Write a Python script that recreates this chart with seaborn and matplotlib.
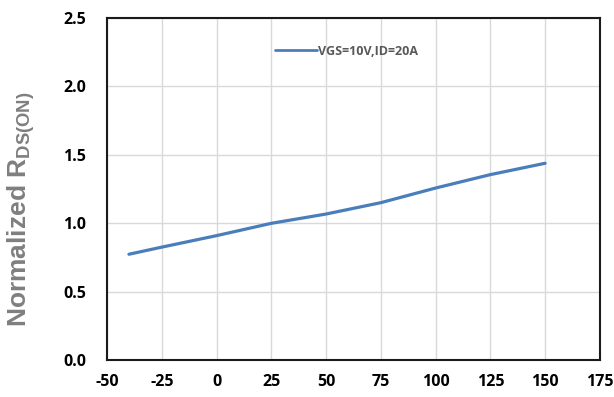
import matplotlib
matplotlib.use("Agg")
import matplotlib.pyplot as plt
import seaborn as sns
import pandas as pd

# Normalized on-resistance versus junction temperature
temperature_c = [-40, -25, 0, 25, 50, 75, 100, 125, 150]
rds_norm = [0.773, 0.825, 0.909, 0.999, 1.067, 1.15, 1.257, 1.355, 1.438]
series_label = "VGS=10V,ID=20A"
x_ticks = [-50, -25, 0, 25, 50, 75, 100, 125, 150, 175]
y_ticks = [0.0, 0.5, 1.0, 1.5, 2.0, 2.5]

sns.set_theme(style="white")
plt.rcParams["font.family"] = ["Open Sans", "DejaVu Sans"]
plt.rcParams["mathtext.default"] = "regular"

df = pd.DataFrame({"T": temperature_c, "R": rds_norm, "series": series_label})

fig = plt.figure(figsize=(6.14, 3.97), dpi=100)
ax = fig.add_axes([0.1743, 0.0932, 0.8027, 0.8615])

sns.lineplot(data=df, x="T", y="R", hue="series", palette=["#4a7ebb"],
             linewidth=2.3, ax=ax, legend=True)

ax.set_xlim(-50, 175)
ax.set_ylim(0, 2.5)
ax.set_xticks(x_ticks)
ax.set_yticks(y_ticks)
ax.set_xticklabels([str(v) for v in x_ticks])
ax.set_yticklabels([f"{v:.1f}" for v in y_ticks])
ax.grid(True, color="#d9d9d9", linewidth=1.0)
ax.set_axisbelow(True)
for s in ax.spines.values():
    s.set_color("#1a1a1a")
    s.set_linewidth(1.5)
ax.tick_params(axis="x", length=0, labelsize=11.5, pad=10)
ax.tick_params(axis="y", length=0, labelsize=11.5, pad=15)
for lbl in ax.get_xticklabels() + ax.get_yticklabels():
    lbl.set_fontweight("bold")
    lbl.set_color("black")
ax.set_xlabel("")
ax.set_ylabel("")

leg = ax.legend(loc="center", bbox_to_anchor=(0.486, 0.903), frameon=False,
                handlelength=3.4, handletextpad=0.1, fontsize=9)
for t in leg.get_texts():
    t.set_color("#595959")
    t.set_fontweight("bold")
for h in leg.get_lines():
    h.set_linewidth(2.0)

fig.text(0.035, 0.474, r"Normalized R$_{DS(ON)}$", rotation=90, ha="center",
         va="center", fontsize=19, fontweight="bold", color="#7f7f7f",
         family="Liberation Sans")

fig.savefig("out.png", dpi=100)
